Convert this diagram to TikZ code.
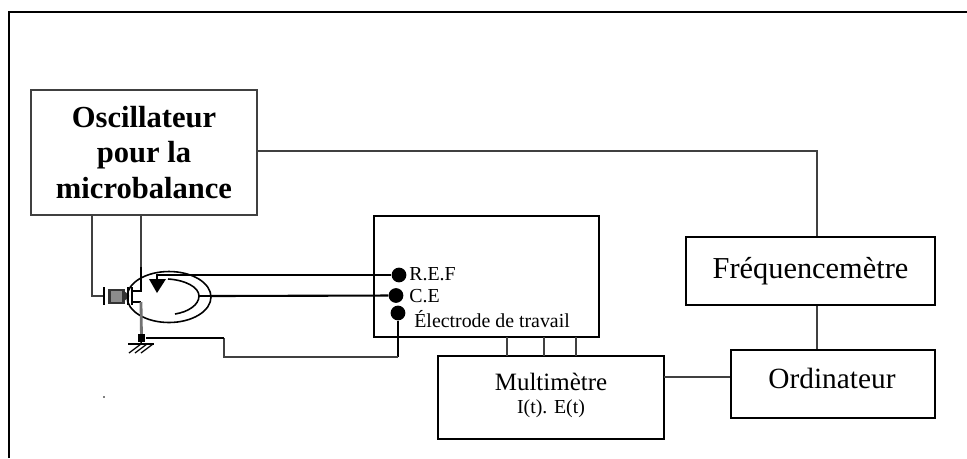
\documentclass[tikz,border=0pt]{standalone}
\usepackage{fontspec}
\setmainfont{Liberation Serif}
\usetikzlibrary{shapes.geometric}
\tikzstyle{bx}=[rectangle,draw=black,line width=1.1pt,inner sep=0pt]
\tikzstyle{wire}=[draw=black!75,line width=.65pt]
\tikzstyle{lead}=[draw=black,line width=1.2pt]
\tikzstyle{dot}=[circle,fill=black,minimum size=8.4pt,inner sep=0pt]
\tikzstyle{lbl}=[inner sep=0pt,anchor=west]
\newcommand{\smalltxt}{\fontsize{11.3}{13}\selectfont}

\begin{document}
\begin{tikzpicture}[x=.02cm,y=-.02cm]
\useasboundingbox (0,0) rectangle (967,458);
% frame, cut off on two sides
\coordinate (fa) at (9,458); \coordinate (fb) at (9,12); \coordinate (fc) at (967,12);
\draw[line width=1.1pt] (fa) -- (fb) -- (fc);
% boxes
\node[bx,draw=black!75,minimum width=226*.02cm,minimum height=125*.02cm,align=center,font=\fontsize{17.4}{20}\selectfont\bfseries] (osc) at (144,152.5) {Oscillateur\\pour la\\microbalance};
\node[bx,minimum width=225*.02cm,minimum height=121*.02cm] (pot) at (486.5,276.5) {};
\node[bx,minimum width=226*.02cm,minimum height=83*.02cm] (multi) at (551,397.5) {};
\node[inner sep=0pt,font=\fontsize{14.2}{16}\selectfont] (multit) at (551,382) {Multimètre};
\node[inner sep=0pt,font=\smalltxt] (multiv) at (551,409) {I(t). E(t)};
\node[bx,minimum width=249*.02cm,minimum height=68*.02cm,font=\fontsize{17.3}{20}\selectfont] (freq) at (810.5,271) {Fréquencemètre};
\node[bx,minimum width=204*.02cm,minimum height=68*.02cm] (ordi) at (833,384) {};
\node[inner sep=0pt,font=\fontsize{16.7}{20}\selectfont] (ordit) at (832,378) {Ordinateur};
% outer wires
\coordinate (ca) at (817,151); \coordinate (cb) at (257,151);
\draw[wire] (cb) -- (ca) -- (freq.north -| ca);
\draw[wire] (freq.south -| ca) -- (ordi.north -| ca);
\coordinate (cc) at (664,377);
\draw[wire] (cc) -- (ordi.west |- cc);
\foreach \x/\n in {507/a,544/b,576/c}{
\coordinate (p\n) at (\x,337); \coordinate (m\n) at (\x,356);
\draw[wire] (p\n) -- (m\n);
}
% dots and their labels
\node[dot] (ref) at (399,275) {};
\node[dot] (ce) at (396,295.5) {};
\node[dot] (trav) at (398,313) {};
\node[lbl,font=\smalltxt] (lref) at (409,274) {R.E.F};
\node[lbl,font=\smalltxt] (lce) at (409,296) {C.E};
\node[lbl,font=\smalltxt] (ltrav) at (414,319) {Électrode de travail};
% cell
\node[ellipse,draw=black,line width=.9pt,minimum width=84*.02cm,minimum height=51*.02cm,inner sep=0pt] (cell) at (169,297) {};
\coordinate (ia) at (168,279); \coordinate (ic) at (199,296); \coordinate (ib) at (175,314);
\draw[black,line width=.9pt] (ia) .. controls (185,280) and (199,287) .. (ic) .. controls (199,305) and (188,312) .. (ib);
\coordinate (ta) at (157,274); \coordinate (tb) at (157,281);
\fill (149,279) -- (166,279) -- (157,293) -- cycle;
\draw[line width=.8pt] (ta) -- (tb);
\coordinate (ra) at (218,275); \coordinate (rb) at (157,275);
\draw[line width=.7pt] (rb) -- (ra);
\draw[lead] (ra) -- (ref);
\coordinate (sa) at (211,296);
\draw[line width=.7pt] (ic) -- (sa);
\draw[lead] (sa) -- (ce);
% quartz and transistor
\coordinate (ga) at (92,296); \coordinate (gb) at (104,296);
\draw[wire] (osc.south -| ga) -- (ga) -- (gb);
\draw[line width=1.5pt] (104,287) -- (104,305);
\node[rectangle,draw=black!80,fill=black!45,line width=1.4pt,minimum width=14*.02cm,minimum height=13*.02cm,inner sep=0pt] (quartz) at (116.5,296.5) {};
\draw[line width=2pt,black!80] (124,293) -- (127,296) -- (124,299);
\draw[line width=1pt] (128,287) -- (128,305);
\coordinate (da) at (141,291); \coordinate (db) at (132,291);
\draw[wire] (osc.south -| da) -- (da);
\draw[line width=1.1pt] (141,267) -- (da) -- (db);
\draw[line width=1.3pt] (132,287) -- (132,305);
\coordinate (ea) at (132,302); \coordinate (eb) at (141,302);
\node[rectangle,fill=black,minimum size=4.2pt,inner sep=0pt] (gnd) at (141.5,338) {};
\draw[line width=1.1pt] (ea) -- (eb);
\draw[draw=black!55,line width=1.6pt] (eb) -- (gnd);
% ground
\coordinate (hy) at (141,344);
\draw[line width=.8pt] (gnd) -- (hy);
\draw[line width=.8pt] (128,344) -- (154,344);
\foreach \x in {141,147,153}{ \draw[line width=.7pt] (\x,344) -- (\x-12,353); }
% lead of the work electrode
\coordinate (wa) at (398,357); \coordinate (wb) at (224,357); \coordinate (wc) at (224,338);
\draw[lead] (trav) -- (wa);
\draw[wire] (wa) -- (wb) -- (wc);
\draw[draw=black,line width=1pt] (wc) -- (gnd);
\fill[black!50] (103,396) rectangle (105,398);
\end{tikzpicture}
\end{document}
